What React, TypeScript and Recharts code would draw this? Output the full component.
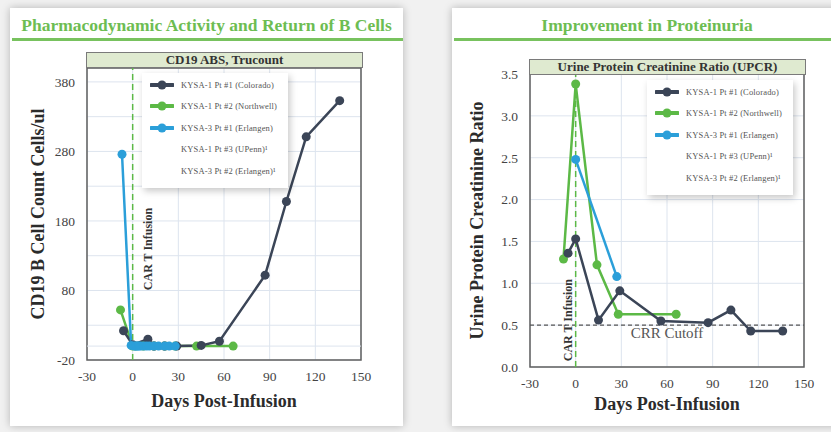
import React from 'react';
import { LineChart, Line, XAxis, YAxis, CartesianGrid, ReferenceLine, ReferenceArea, Legend } from 'recharts';

const SERIF = '"Liberation Serif", "Times New Roman", serif';

const dayTicks = [-30, 0, 30, 60, 90, 120, 150];
const cd19Ticks = [-20, 30, 80, 130, 180, 230, 280, 330, 380];
const cd19Labeled = [-20, 80, 180, 280, 380];
const upcrTicks = [0, 0.5, 1, 1.5, 2, 2.5, 3, 3.5];

const patients = [
  'KYSA-1 Pt #1 (Colorado)',
  'KYSA-1 Pt #2 (Northwell)',
  'KYSA-3 Pt #1 (Erlangen)',
  'KYSA-1 Pt #3 (UPenn)¹',
  'KYSA-3 Pt #2 (Erlangen)¹',
];
const patientColors = ['#3b4557', '#5cb946', '#2b9fd9', '', ''];

// CD19 B cell count, cells/ul
const cd19Colorado = [
  { day: -6, value: 22 }, { day: 0, value: 2 }, { day: 10, value: 10 }, { day: 14, value: 0 },
  { day: 21, value: 0 }, { day: 29, value: 0 }, { day: 45, value: 1 }, { day: 57, value: 7 },
  { day: 87, value: 102 }, { day: 101, value: 208 }, { day: 114, value: 301 }, { day: 136, value: 353 },
];
const cd19Northwell = [
  { day: -8, value: 52 }, { day: 0, value: 0 }, { day: 2, value: 0 }, { day: 7, value: 0 },
  { day: 14, value: 0 }, { day: 21, value: 0 }, { day: 28, value: 0 }, { day: 42, value: 0 },
  { day: 66, value: 0 },
];
const cd19Erlangen = [
  { day: -7, value: 276 }, { day: -1, value: 1 }, { day: 1, value: 0 }, { day: 2, value: 0 },
  { day: 3, value: 0 }, { day: 4, value: 0 }, { day: 5, value: 0 }, { day: 7, value: 0 },
  { day: 9, value: 0 }, { day: 11, value: 0 }, { day: 14, value: 0 }, { day: 17, value: 0 },
  { day: 21, value: 0 }, { day: 24, value: 0 }, { day: 28, value: 0 },
];

// urine protein creatinine ratio
const upcrColorado = [
  { day: -5, value: 1.36 }, { day: 0, value: 1.53 }, { day: 15, value: 0.56 }, { day: 29, value: 0.91 },
  { day: 56, value: 0.55 }, { day: 87, value: 0.53 }, { day: 102, value: 0.68 }, { day: 115, value: 0.43 },
  { day: 136, value: 0.43 },
];
const upcrNorthwell = [
  { day: -8, value: 1.29 }, { day: 0, value: 3.38 }, { day: 14, value: 1.22 }, { day: 28, value: 0.63 },
  { day: 66, value: 0.63 },
];
const upcrErlangen = [
  { day: 0, value: 2.48 }, { day: 27, value: 1.08 },
];

const gridColor = '#dde4ee';
const tickStyle = { fill: '#444', fontSize: 13.5, fontFamily: SERIF };
const titleLabelStyle = { fill: '#2b2b2b', fontSize: 18, fontWeight: 'bold', fontFamily: SERIF };

const PatientLegend = () => (
  <div style={{ background: '#fff', boxShadow: '2px 3px 7px rgba(0,0,0,0.22)', width: 146, height: 115, paddingTop: 1, boxSizing: 'border-box' }}>
    {patients.map((name, i) => (
      <div key={name} style={{ display: 'flex', alignItems: 'center', height: 21.5, paddingLeft: 8 }}>
        <svg width={24} height={10}>
          {patientColors[i] && (
            <>
              <line x1={1} y1={5} x2={23} y2={5} stroke={patientColors[i]} strokeWidth={4} strokeLinecap="round" />
              <circle cx={12} cy={5} r={4.5} fill={patientColors[i]} />
            </>
          )}
        </svg>
        <span style={{ fontSize: 8.5, letterSpacing: 0.15, color: '#555', marginLeft: 7, fontFamily: SERIF, whiteSpace: 'nowrap' }}>{name}</span>
      </div>
    ))}
  </div>
);

const InfusionLabel = (props: any) => {
  const { viewBox, shiftX, frac } = props;
  if (!viewBox) return null;
  const cx = viewBox.x + shiftX;
  const cy = viewBox.y + viewBox.height * frac;
  return (
    <text x={cx} y={cy} transform={`rotate(-90, ${cx}, ${cy})`} textAnchor="middle" dominantBaseline="central"
      fontSize={12} fontWeight="bold" fontFamily={SERIF} fill="#333">
      CAR T Infusion
    </text>
  );
};

const Card = ({ left, width, title }: { left: number; width: number; title: string }) => (
  <div style={{ position: 'absolute', left, top: 8, width, height: 418, background: '#fff', boxShadow: '0 0 8px rgba(0,0,0,0.25)' }}>
    <div style={{ textAlign: 'center', marginTop: 7, color: '#6dbd52', fontFamily: SERIF, fontWeight: 'bold', fontSize: 17.5 }}>{title}</div>
    <div style={{ position: 'absolute', left: 2, right: 0, top: 30, height: 3, background: '#78c25e' }} />
  </div>
);

const HeaderBand = ({ left, top, text }: { left: number; top: number; text: string }) => (
  <div style={{
    position: 'absolute', left, top, width: 275, height: 14, background: '#dfead0', border: '1px solid #7a7a7a',
    fontFamily: SERIF, fontWeight: 'bold', fontSize: 13, color: '#333', textAlign: 'center', lineHeight: '14px',
  }}>{text}</div>
);

const App: React.FC = () => {
  return (
    <div style={{ position: 'absolute', left: 0, top: 0, width: 831, height: 432, background: '#f1f1f1', overflow: 'hidden' }}>
      <Card left={10} width={393} title="Pharmacodynamic Activity and Return of B Cells" />
      <Card left={452} width={390} title="Improvement in Proteinuria" />

      <div style={{ position: 'absolute', left: 0, top: 0 }}>
        <LineChart width={400} height={432} margin={{ top: 68, right: 39, bottom: 42, left: 12 }}>
          <CartesianGrid stroke={gridColor} />
          <XAxis type="number" dataKey="day" domain={[-30, 150]} ticks={dayTicks} tickLine={false} axisLine={false}
            tick={tickStyle} tickMargin={5} height={30}
            label={{ value: 'Days Post-Infusion', position: 'bottom', offset: 4, style: titleLabelStyle }} />
          <YAxis type="number" domain={[-20, 400]} ticks={cd19Ticks} tickLine={false} axisLine={false}
            tick={tickStyle} tickMargin={6} width={75}
            tickFormatter={(v: number) => (cd19Labeled.includes(v) ? String(v) : '')}
            label={{ value: 'CD19 B Cell Count Cells/ul', angle: -90, position: 'insideLeft', offset: 26, style: { ...titleLabelStyle, textAnchor: 'middle' } }} />
          <ReferenceLine y={0} stroke={gridColor} />
          <ReferenceLine x={0} stroke="#5cb946" strokeWidth={1.5} strokeDasharray="6 4"
            label={<InfusionLabel shiftX={15} frac={0.62} />} />
          <ReferenceArea x1={-30} x2={150} y1={-20} y2={400} fill="none" stroke="#5f5f5f" strokeWidth={1.5}
            fillOpacity={0} ifOverflow="visible" />
          <Line data={cd19Northwell} dataKey="value" name={patients[1]} stroke={patientColors[1]} strokeWidth={2.5}
            dot={{ r: 4.5, fill: patientColors[1], strokeWidth: 0 }} isAnimationActive={false} />
          <Line data={cd19Colorado} dataKey="value" name={patients[0]} stroke={patientColors[0]} strokeWidth={2.5}
            dot={{ r: 4.5, fill: patientColors[0], strokeWidth: 0 }} isAnimationActive={false} />
          <Line data={cd19Erlangen} dataKey="value" name={patients[2]} stroke={patientColors[2]} strokeWidth={2.5}
            dot={{ r: 4.5, fill: patientColors[2], strokeWidth: 0 }} isAnimationActive={false} />
          <Legend layout="vertical" align="center" verticalAlign="middle" content={<PatientLegend />}
            wrapperStyle={{ left: 142, top: 73, width: 146, height: 115 }} />
        </LineChart>
      </div>
      <HeaderBand left={86} top={52} text="CD19 ABS, Trucount" />

      <div style={{ position: 'absolute', left: 420, top: 0 }}>
        <LineChart width={411} height={432} margin={{ top: 74, right: 27, bottom: 35, left: 40 }}>
          <CartesianGrid stroke={gridColor} />
          <XAxis type="number" dataKey="day" domain={[-30, 150]} ticks={dayTicks} tickLine={false} axisLine={false}
            tick={tickStyle} tickMargin={5} height={30}
            label={{ value: 'Days Post-Infusion', position: 'bottom', offset: 0, style: titleLabelStyle }} />
          <YAxis type="number" domain={[0, 3.5]} ticks={upcrTicks} tickLine={false} axisLine={false}
            tick={tickStyle} tickMargin={6} width={70}
            tickFormatter={(v: number) => v.toFixed(1)}
            label={{ value: 'Urine Protein Creatinine Ratio', angle: -90, position: 'insideLeft', offset: 17, style: { ...titleLabelStyle, textAnchor: 'middle' } }} />
          <ReferenceLine y={0.5} stroke="#555" strokeWidth={1.2} strokeDasharray="4 3"
            label={{ value: 'CRR Cutoff', position: 'bottom', offset: 2, fill: '#555', fontSize: 15, fontFamily: SERIF }} />
          <ReferenceLine x={0} stroke="#5cb946" strokeWidth={1.5} strokeDasharray="6 4"
            label={<InfusionLabel shiftX={-8} frac={0.84} />} />
          <ReferenceArea x1={-30} x2={150} y1={0} y2={3.5} fill="none" stroke="#5f5f5f" strokeWidth={1.5}
            fillOpacity={0} ifOverflow="visible" />
          <Line data={upcrNorthwell} dataKey="value" name={patients[1]} stroke={patientColors[1]} strokeWidth={2.5}
            dot={{ r: 4.5, fill: patientColors[1], strokeWidth: 0 }} isAnimationActive={false} />
          <Line data={upcrErlangen} dataKey="value" name={patients[2]} stroke={patientColors[2]} strokeWidth={2.5}
            dot={{ r: 4.5, fill: patientColors[2], strokeWidth: 0 }} isAnimationActive={false} />
          <Line data={upcrColorado} dataKey="value" name={patients[0]} stroke={patientColors[0]} strokeWidth={2.5}
            dot={{ r: 4.5, fill: patientColors[0], strokeWidth: 0 }} isAnimationActive={false} />
          <Legend layout="vertical" align="center" verticalAlign="middle" content={<PatientLegend />}
            wrapperStyle={{ left: 227, top: 80, width: 146, height: 115 }} />
        </LineChart>
      </div>
      <HeaderBand left={529} top={59} text="Urine Protein Creatinine Ratio (UPCR)" />
    </div>
  );
};

export default App;
